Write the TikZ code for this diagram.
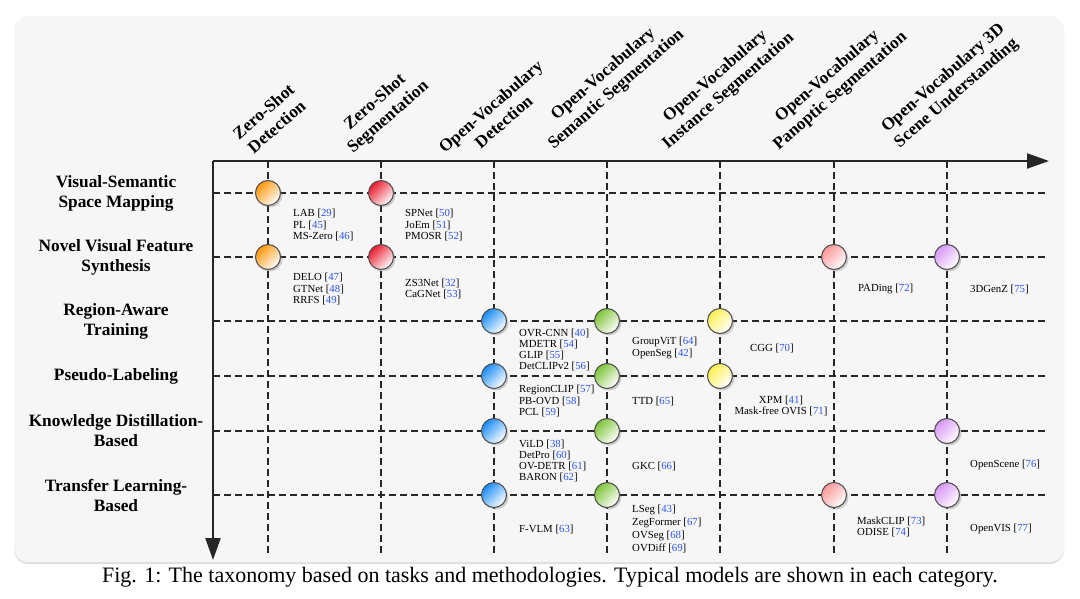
\documentclass[tikz,border=0pt]{standalone}
\usepackage{fontspec}
\setmainfont{Liberation Serif}
\usetikzlibrary{arrows.meta, shadows, positioning}
\usepackage{xcolor}
\definecolor{refblue}{RGB}{45,85,235}
\definecolor{panel}{RGB}{246,246,246}
\definecolor{zsd}{RGB}{255,150,10}
\definecolor{zss}{RGB}{235,25,45}
\definecolor{ovd}{RGB}{25,140,245}
\definecolor{ovss}{RGB}{125,195,55}
\definecolor{ovis}{RGB}{250,240,80}
\definecolor{ovps}{RGB}{250,150,150}
\definecolor{ovsu}{RGB}{215,150,245}
\newcommand{\rf}[1]{[{\color{refblue}#1}]}

\begin{document}
\begin{tikzpicture}[x=1pt, y=-1pt]

% TikZ styles
\tikzset{
  axis/.style={-{Triangle[length=22pt, width=15pt]}, line width=2.2pt, black!85},
  gridline/.style={line width=1.2pt, dash pattern=on 7pt off 4pt, black!85},
  ball/.style={circle, draw=black!70, line width=1pt, minimum size=25pt, inner sep=0pt,
    top color=#1, bottom color=white, shading angle=45,
    drop shadow={opacity=0.35, shadow xshift=2pt, shadow yshift=-2pt}},
  cites/.style={anchor=west, align=left, inner sep=0pt, font=\fontsize{10.8}{11.2}\selectfont},
  method/.style={align=center, font=\bfseries\fontsize{17.3}{20}\selectfont},
  task/.style={align=center, rotate=41, font=\bfseries\fontsize{17.3}{20}\selectfont}
}

\useasboundingbox (0,0) rectangle (1080,599);

% Hintergrund
\fill[panel, rounded corners=14pt, drop shadow={opacity=0.25, shadow xshift=0pt, shadow yshift=-2pt}]
  (14,16) rectangle (1064,562);

%==========================
% Achsen und Raster
%==========================
\coordinate (origin) at (213,161);
\coordinate (xend)   at (1049,161);
\coordinate (yend)   at (213,560);

\coordinate (top1) at (268,161);  \coordinate (bot1) at (268,556);
\coordinate (top2) at (381,161);  \coordinate (bot2) at (381,556);
\coordinate (top3) at (494,161);  \coordinate (bot3) at (494,556);
\coordinate (top4) at (607,161);  \coordinate (bot4) at (607,556);
\coordinate (top5) at (720,161);  \coordinate (bot5) at (720,556);
\coordinate (top6) at (834,161);  \coordinate (bot6) at (834,556);
\coordinate (top7) at (947,161);  \coordinate (bot7) at (947,556);

\coordinate (left1) at (213,193);  \coordinate (right1) at (1045,193);
\coordinate (left2) at (213,257);  \coordinate (right2) at (1045,257);
\coordinate (left3) at (213,321);  \coordinate (right3) at (1045,321);
\coordinate (left4) at (213,376);  \coordinate (right4) at (1045,376);
\coordinate (left5) at (213,431);  \coordinate (right5) at (1045,431);
\coordinate (left6) at (213,495);  \coordinate (right6) at (1045,495);

\draw[gridline] (top1) -- (bot1);
\draw[gridline] (top2) -- (bot2);
\draw[gridline] (top3) -- (bot3);
\draw[gridline] (top4) -- (bot4);
\draw[gridline] (top5) -- (bot5);
\draw[gridline] (top6) -- (bot6);
\draw[gridline] (top7) -- (bot7);

\draw[gridline] (left1) -- (right1);
\draw[gridline] (left2) -- (right2);
\draw[gridline] (left3) -- (right3);
\draw[gridline] (left4) -- (right4);
\draw[gridline] (left5) -- (right5);
\draw[gridline] (left6) -- (right6);

\draw[axis] (origin) -- (xend);
\draw[axis] (origin) -- (yend);

%==========================
% Aufgaben (oben)
%==========================
\node[task] (zsdet)  at (270,119) {Zero-Shot\\Detection};
\node[task] (zsseg)  at (382,110) {Zero-Shot\\Segmentation};
\node[task] (ovdet)  at (497,114) {Open-Vocabulary\\Detection};
\node[task] (ovsem)  at (610,82)  {Open-Vocabulary\\Semantic Segmentation};
\node[task] (ovins)  at (722,84)  {Open-Vocabulary\\Instance Segmentation};
\node[task] (ovpan)  at (834,84)  {Open-Vocabulary\\Panoptic Segmentation};
\node[task] (ov3d)   at (950,86)  {Open-Vocabulary 3D\\Scene Understanding};

%==========================
% Methoden (links)
%==========================
\node[method] (vsm) at (116,193) {Visual-Semantic\\Space Mapping};
\node[method] (nvf) at (116,257) {Novel Visual Feature\\Synthesis};
\node[method] (rat) at (116,321) {Region-Aware\\Training};
\node[method] (psl) at (116,376) {Pseudo-Labeling};
\node[method] (kdb) at (116,431) {Knowledge Distillation-\\Based};
\node[method] (tlb) at (116,495) {Transfer Learning-\\Based};

%==========================
% Kugeln
%==========================
\node[ball=zsd] (vsm-zsdet) at (268,193) {};
\node[ball=zss] (vsm-zsseg) at (381,193) {};

\node[ball=zsd]  (nvf-zsdet) at (268,257) {};
\node[ball=zss]  (nvf-zsseg) at (381,257) {};
\node[ball=ovps] (nvf-ovpan) at (834,257) {};
\node[ball=ovsu] (nvf-ov3d)  at (947,257) {};

\node[ball=ovd]  (rat-ovdet) at (494,321) {};
\node[ball=ovss] (rat-ovsem) at (607,321) {};
\node[ball=ovis] (rat-ovins) at (720,321) {};

\node[ball=ovd]  (psl-ovdet) at (494,376) {};
\node[ball=ovss] (psl-ovsem) at (607,376) {};
\node[ball=ovis] (psl-ovins) at (720,376) {};

\node[ball=ovd]  (kdb-ovdet) at (494,431) {};
\node[ball=ovss] (kdb-ovsem) at (607,431) {};
\node[ball=ovsu] (kdb-ov3d)  at (947,431) {};

\node[ball=ovd]  (tlb-ovdet) at (494,495) {};
\node[ball=ovss] (tlb-ovsem) at (607,495) {};
\node[ball=ovps] (tlb-ovpan) at (834,495) {};
\node[ball=ovsu] (tlb-ov3d)  at (947,495) {};

%==========================
% Modelle
%==========================
\node[cites] (m-vsm-zsdet) at (293,225) {LAB \rf{29}\\PL \rf{45}\\MS-Zero \rf{46}};
\node[cites] (m-vsm-zsseg) at (405,225) {SPNet \rf{50}\\JoEm \rf{51}\\PMOSR \rf{52}};

\node[cites] (m-nvf-zsdet) at (293,289) {DELO \rf{47}\\GTNet \rf{48}\\RRFS \rf{49}};
\node[cites] (m-nvf-zsseg) at (405,289) {ZS3Net \rf{32}\\CaGNet \rf{53}};
\node[cites] (m-nvf-ovpan) at (858,289) {PADing \rf{72}};
\node[cites] (m-nvf-ov3d)  at (970,289) {3DGenZ \rf{75}};

\node[cites] (m-rat-ovdet) at (519,350) {OVR-CNN \rf{40}\\MDETR \rf{54}\\GLIP \rf{55}\\DetCLIPv2 \rf{56}};
\node[cites] (m-rat-ovsem) at (632,348) {GroupViT \rf{64}\\OpenSeg \rf{42}};
\node[cites] (m-rat-ovins) at (750,348) {CGG \rf{70}};

\node[cites] (m-psl-ovdet) at (519,401) {RegionCLIP \rf{57}\\PB-OVD \rf{58}\\PCL \rf{59}};
\node[cites] (m-psl-ovsem) at (632,401) {TTD \rf{65}};
\node[cites, anchor=center, align=center] (m-psl-ovins) at (781,406) {XPM \rf{41}\\Mask-free OVIS \rf{71}};

\node[cites] (m-kdb-ovdet) at (519,461) {ViLD \rf{38}\\DetPro \rf{60}\\OV-DETR \rf{61}\\BARON \rf{62}};
\node[cites] (m-kdb-ovsem) at (632,466) {GKC \rf{66}};
\node[cites] (m-kdb-ov3d)  at (970,465) {OpenScene \rf{76}};

\node[cites] (m-tlb-ovdet) at (519,529) {F-VLM \rf{63}};
\node[cites, font=\fontsize{10.8}{12.8}\selectfont] (m-tlb-ovsem) at (632,529) {LSeg \rf{43}\\ZegFormer \rf{67}\\OVSeg \rf{68}\\OVDiff \rf{69}};
\node[cites] (m-tlb-ovpan) at (857,527) {MaskCLIP \rf{73}\\ODISE \rf{74}};
\node[cites] (m-tlb-ov3d)  at (970,529) {OpenVIS \rf{77}};

% Bildunterschrift
\node[font=\fontsize{22}{24}\selectfont] (caption) at (550,577)
  {Fig. 1: The taxonomy based on tasks and methodologies. Typical models are shown in each category.};

\end{tikzpicture}
\end{document}
